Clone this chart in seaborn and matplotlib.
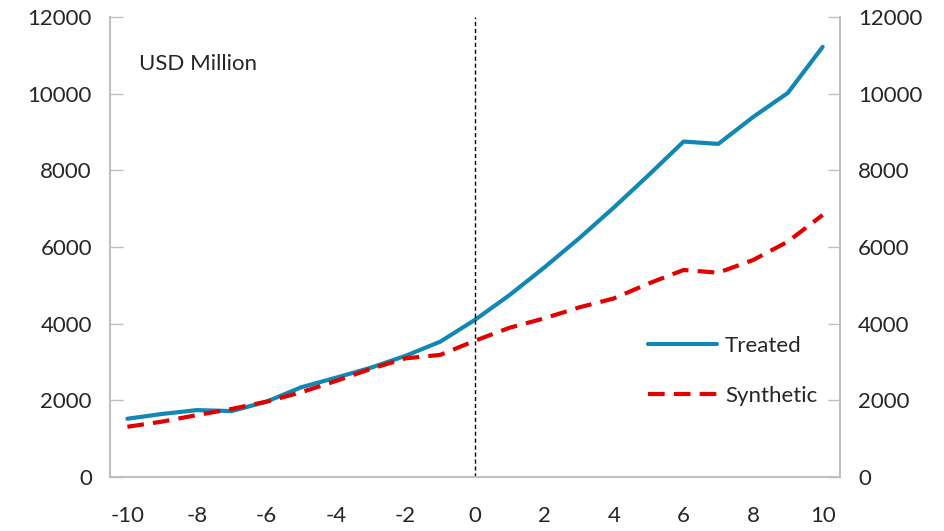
import seaborn as sns
import pandas as pd
import matplotlib.pyplot as plt
import numpy as np

years = list(range(-10, 11))
treated = [1520, 1645, 1745, 1720, 1965, 2340, 2590, 2850, 3160, 3530, 4100,
           4750, 5470, 6230, 7035, 7880, 8750, 8690, 9390, 10020, 11220]
synthetic = [1310, 1445, 1615, 1775, 1965, 2210, 2505, 2820, 3095, 3185, 3555,
             3895, 4140, 4425, 4660, 5050, 5400, 5330, 5660, 6140, 6835]

sns.set_style("white")
plt.rcParams['font.family'] = ['Lato', 'DejaVu Sans']
plt.rcParams['axes.unicode_minus'] = False

df = pd.DataFrame({"year": years, "Treated": treated, "Synthetic": synthetic})

fig = plt.figure(figsize=(9.45, 5.31), dpi=100)
ax = fig.add_axes([0.1164, 0.1017, 0.7725, 0.8663])

sns.lineplot(data=df, x="year", y="Treated", ax=ax, color="#1287B4", lw=3, label="Treated")
sns.lineplot(data=df, x="year", y="Synthetic", ax=ax, color="#E00000", lw=3,
             linestyle=(0, (4, 2.2)), label="Synthetic")
ax.axvline(0, color="black", lw=1, linestyle=(0, (3, 2)))

ax.set_xlim(-10.5, 10.5)
ax.set_ylim(0, 12000)
ax.set_xticks(range(-10, 11, 2))
ax.set_xticks(np.arange(-10.5, 11, 1), minor=True)
ax.set_yticks(range(0, 12001, 2000))
ax.set_xlabel("")
ax.set_ylabel("")

ax.spines["top"].set_visible(False)
for s in ["left", "right", "bottom"]:
    ax.spines[s].set_color("#BFBFBF")
    ax.spines[s].set_linewidth(1.5)

ax.tick_params(axis="x", which="major", length=0, labelsize=16, pad=21)
ax.tick_params(axis="x", which="minor", length=7, direction="in", color="#BFBFBF", width=1)
ax.tick_params(axis="y", which="major", length=9, direction="in", color="#BFBFBF",
               width=1, labelsize=16, left=True, right=True, labelleft=True, labelright=True, pad=13)

ax.text(0.04, 0.885, "USD Million", transform=ax.transAxes, fontsize=16)

ax.legend(loc="upper left", bbox_to_anchor=(0.71, 0.35), frameon=False, fontsize=16,
          handlelength=3.1, handletextpad=0.35, labelspacing=1.35)

fig.savefig("out.png", dpi=100)
